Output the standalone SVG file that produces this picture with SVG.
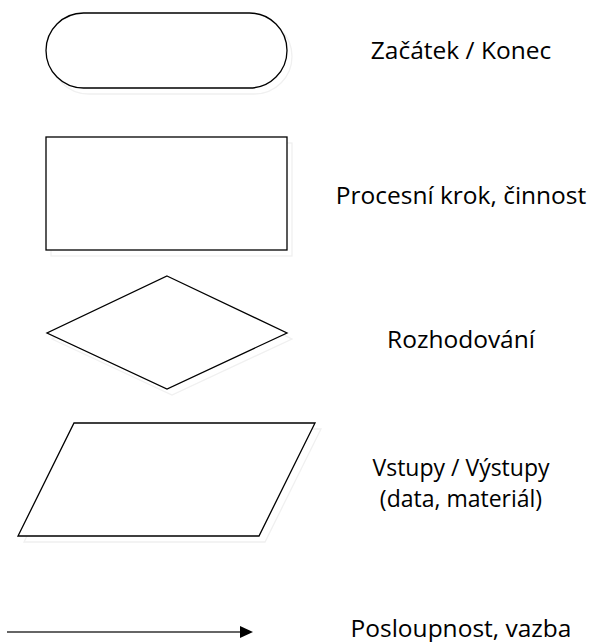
<svg xmlns="http://www.w3.org/2000/svg" width="592" height="642" viewBox="0 0 592 642">
<defs>
<style>
.shape{fill:#fff;stroke:#000;stroke-width:1.3}
.shadow{fill:none;stroke:#f0f0f0;stroke-width:1.3}
.lbl{font-family:"Open Sans","Noto Sans","DejaVu Sans",sans-serif;font-size:24.5px;fill:#000;text-anchor:middle}
.lbl2{font-size:23px}
</style>
</defs>
<rect width="592" height="642" fill="#fff"/>
<g id="terminator">
<rect class="shadow" x="51" y="19" width="241" height="75" rx="37.5"/>
<rect class="shape" x="46" y="13" width="241" height="75" rx="37.5"/>
<text class="lbl" x="461" y="59">Začátek / Konec</text>
</g>
<g id="process">
<rect class="shadow" x="51" y="143" width="241" height="113"/>
<rect class="shape" x="46" y="137" width="241" height="113"/>
<text class="lbl" x="461" y="204">Procesní krok, činnost</text>
</g>
<g id="decision">
<polygon class="shadow" points="172,282 292,339 172,395 52,339"/>
<polygon class="shape" points="167,276 287,333 167,389 47,333"/>
<text class="lbl" x="461" y="348">Rozhodování</text>
</g>
<g id="io">
<polygon class="shadow" points="80,429 321,429 265,542 24,542"/>
<polygon class="shape" points="74,423 315,423 259,536 18,536"/>
<text class="lbl lbl2" x="461" y="476">Vstupy / Výstupy</text>
<text class="lbl lbl2" x="461" y="507">(data, materiál)</text>
</g>
<g id="connectors">
<line x1="7" y1="632" x2="241" y2="632" stroke="#333" stroke-width="1.5"/>
<path d="M240,626 L253,632 L240,638 Z" fill="#000"/>
</g>
<g id="sequence">
<text class="lbl" x="461" y="637">Posloupnost, vazba</text>
</g>
</svg>
